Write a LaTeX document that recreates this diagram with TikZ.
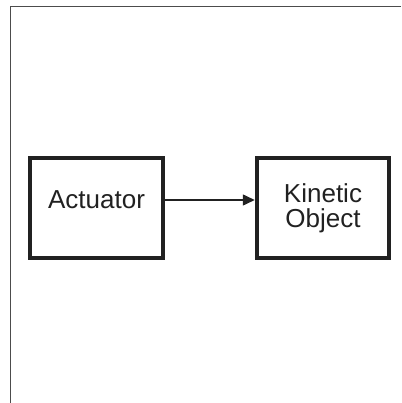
\documentclass[tikz,border=0pt]{standalone}
\usepackage{fontspec}
\setmainfont{Liberation Sans}
\usepackage{tikz}
\usetikzlibrary{arrows.meta}

\begin{document}
\begin{tikzpicture}[x=1pt,y=-1pt,
    block/.style={draw=black!87, line width=4.5pt, minimum height=100pt,
        align=center, text=black!87, font=\fontsize{26}{25}\selectfont},
    link/.style={-{Triangle[length=12pt,width=11pt]}, line width=1.5pt, draw=black!87}]
\useasboundingbox (0,0) rectangle (401,403);
% frame
\draw[black!70, line width=1pt] (401,7) -- (10,7) -- (10,403);
% blocks
\node[block, minimum width=133pt, text height=19pt, text depth=19pt] (act) at (96.5,208) {Actuator};
\node[block, minimum width=132pt] (kin) at (323,208) {Kinetic\\Object};
\draw[link] ([yshift=8pt]act.east) -- ([yshift=8pt]kin.west);
\end{tikzpicture}
\end{document}
